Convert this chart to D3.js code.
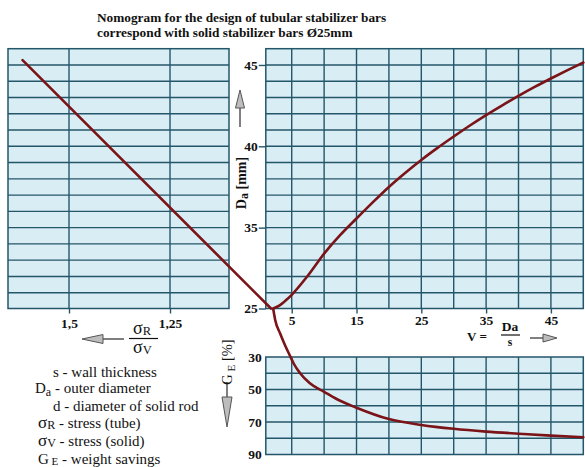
<!DOCTYPE html>
<html>
<head>
<meta charset="utf-8">
<script src="https://cdn.jsdelivr.net/npm/d3@7/dist/d3.min.js"></script>
<style>
body { margin: 0; background: #fff; }
svg text { font-family: "Liberation Serif", "Times New Roman", serif; fill: #111; }
.tick text { font-weight: bold; font-size: 13.5px; }
</style>
</head>
<body>
<div id="chart"></div>
<script>
// values
const vTicks = [5, 15, 25, 35, 45];
const vGrid = [5, 10, 15, 20, 25, 30, 35, 40, 45];
const daTicks = [25, 35, 40, 45];
const daGrid = d3.range(31, 46);
const geTicks = [30, 50, 70, 90];
const geGrid = [40, 50, 60, 70, 80];
const ratioTicks = [1.5, 1.25];

// sigma_R/sigma_V -> Da (straight line across the left panel)
const ratioDa = [[1.615, 45.3], [1.0, 25]];
// V = Da/s -> Da
const vDa = [[2.15, 25], [3.2, 26.3], [4.05, 28.0], [5, 30.2], [7.4, 32], [10, 33.4],
  [12.5, 34.55], [15, 35.56], [17.5, 36.55], [20, 37.5], [22.5, 38.36], [25, 39.16],
  [27.5, 39.9], [30, 40.6], [32.5, 41.28], [35, 41.92], [37.5, 42.52], [40, 43.1],
  [42.5, 43.65], [45, 44.17], [47.5, 44.67], [50, 45.15]];
// V = Da/s -> weight savings G_E [%]
const vGe = [[2.15, 0.5], [2.45, 7.2], [3.2, 15.4], [3.95, 22.6], [4.75, 29.4], [5.3, 34],
  [6.3, 40], [7.8, 46.2], [10, 51.4], [12, 56], [15, 61.2], [20, 68.2], [25, 71.8],
  [30, 74.2], [35, 75.9], [40, 77.2], [45, 78.4], [50, 79.4]];

const W = 585, H = 467;
const gridCol = "#24566a", fillCol = "#d9edf4", curveCol = "#7a1418";

const svg = d3.select("#chart").append("svg")
  .attr("width", W).attr("height", H);

const xV = d3.scaleLinear().domain([1, 50]).range([265.8, 583.3]);
const yDa = d3.scaleLinear().domain([25, 31, 46]).range([308.5, 292.7, 48.7]);
const yGe = d3.scaleLinear().domain([30, 90]).range([357, 454.5]);
const xR = d3.scaleLinear().domain([1.651, 1.104]).range([8, 229]);

// title
const title = svg.append("text").attr("x", 97).attr("y", 22)
  .style("font-weight", "bold").style("font-size", "13.3px");
title.append("tspan").attr("x", 97).text("Nomogram for the design of tubular stabilizer bars");
title.append("tspan").attr("x", 97).attr("dy", 14.5).text("correspond with solid stabilizer bars  Ø25mm");

function panel(xs, ys, vLines, hLines) {
  const g = svg.append("g");
  const [x0, x1] = xs.range(), yr = ys.range();
  const xa = Math.min(x0, x1), xb = Math.max(x0, x1);
  const ya = d3.min(yr), yb = d3.max(yr);
  g.append("rect").attr("x", xa).attr("y", ya).attr("width", xb - xa).attr("height", yb - ya)
    .attr("fill", fillCol).attr("stroke", gridCol).attr("stroke-width", 1.5);
  g.selectAll("line.v").data(vLines).join("line").attr("class", "v")
    .attr("x1", d => xs(d)).attr("x2", d => xs(d)).attr("y1", ya).attr("y2", yb)
    .attr("stroke", gridCol).attr("stroke-width", 1.4);
  g.selectAll("line.h").data(hLines).join("line").attr("class", "h")
    .attr("y1", d => ys(d)).attr("y2", d => ys(d)).attr("x1", xa).attr("x2", xb)
    .attr("stroke", gridCol).attr("stroke-width", 1.4);
  return g;
}

panel(xR, yDa, ratioTicks, daGrid);
panel(xV, yDa, vGrid, daGrid);
panel(xV, yGe, vGrid, geGrid);

// axes
const axDa = svg.append("g").attr("transform", `translate(${xV(1)},0)`)
  .call(d3.axisLeft(yDa).tickValues(daTicks).tickSize(7).tickPadding(1));
const axV = svg.append("g").attr("transform", `translate(0,${yDa(25)})`)
  .call(d3.axisBottom(xV).tickValues(vTicks).tickSize(5).tickPadding(2));
const axR = svg.append("g").attr("transform", `translate(0,${yDa(25)})`)
  .call(d3.axisBottom(xR).tickValues(ratioTicks).tickSize(5).tickPadding(5)
    .tickFormat(d => String(d).replace(".", ",")));
const axGe = svg.append("g").attr("transform", `translate(${xV(1)},0)`)
  .call(d3.axisLeft(yGe).tickValues(geTicks).tickSize(0).tickPadding(4));
[axDa, axV, axR, axGe].forEach(a => {
  a.select(".domain").remove();
  a.selectAll(".tick line").attr("stroke", gridCol).attr("stroke-width", 1.4);
});

// curves
const lineVDa = d3.line().x(d => xV(d[0])).y(d => yDa(d[1])).curve(d3.curveMonotoneX);
const lineVGe = d3.line().x(d => xV(d[0])).y(d => yGe(d[1])).curve(d3.curveMonotoneX);
const lineR = d3.line().x(d => xR(d[0])).y(d => yDa(d[1]));
[[ratioDa, lineR], [vDa, lineVDa], [vGe, lineVGe]].forEach(([data, gen]) => {
  svg.append("path").datum(data).attr("d", gen)
    .attr("fill", "none").attr("stroke", curveCol).attr("stroke-width", 2.6)
    .attr("stroke-linejoin", "round").attr("stroke-linecap", "round");
});

// arrows
function arrow(x1, y1, x2, y2, head, half) {
  const g = svg.append("g");
  const dx = x2 - x1, dy = y2 - y1, len = Math.hypot(dx, dy);
  const ux = dx / len, uy = dy / len;
  const bx = x2 - ux * head, by = y2 - uy * head;
  g.append("line").attr("x1", x1).attr("y1", y1).attr("x2", bx).attr("y2", by)
    .attr("stroke", "#555").attr("stroke-width", 1.5);
  g.append("path")
    .attr("d", `M${x2},${y2}L${bx - uy * half},${by + ux * half}L${bx + uy * half},${by - ux * half}Z`)
    .attr("fill", "#bdbdbd").attr("stroke", "#555").attr("stroke-width", 1);
}
arrow(240, 127, 240, 90, 18, 4.5);
arrow(227, 382, 227, 427, 30, 5);
arrow(530, 338, 557, 338, 14, 4);
arrow(124, 339, 82, 339, 21, 4.5);

// Da [mm]
const daLab = svg.append("text").attr("transform", "translate(246,183) rotate(-90)")
  .attr("text-anchor", "middle").style("font-weight", "bold").style("font-size", "14px");
daLab.append("tspan").text("D");
daLab.append("tspan").attr("dy", 2).style("font-size", "12px").text("a");
daLab.append("tspan").attr("dy", -2).text(" [mm]");

// G_E [%]
const geLab = svg.append("text").attr("transform", "translate(232,362) rotate(-90)")
  .attr("text-anchor", "middle").style("font-size", "14.5px");
geLab.append("tspan").text("G");
geLab.append("tspan").attr("dy", 3).style("font-size", "11px").text(" E");
geLab.append("tspan").attr("dy", -3).text(" [%]");

// V = Da / s
svg.append("text").attr("x", 467).attr("y", 341).style("font-weight", "bold")
  .style("font-size", "13px").text("V =");
svg.append("text").attr("x", 510).attr("y", 331).attr("text-anchor", "middle")
  .style("font-weight", "bold").style("font-size", "13.5px").text("Da");
svg.append("line").attr("x1", 501).attr("x2", 520).attr("y1", 335).attr("y2", 335)
  .attr("stroke", "#111").attr("stroke-width", 1.2);
svg.append("text").attr("x", 510).attr("y", 346).attr("text-anchor", "middle")
  .style("font-weight", "bold").style("font-size", "11.5px").text("s");

// sigma_R / sigma_V
function sigma(x, y, sub, size, subSize) {
  const t = svg.append("text").attr("x", x).attr("y", y);
  t.append("tspan").style("font-size", size + "px").text("σ");
  t.append("tspan").attr("dy", 1).style("font-size", subSize + "px").text(sub);
  return t;
}
sigma(133, 334, "R", 18, 12.5);
svg.append("line").attr("x1", 129).attr("x2", 158).attr("y1", 338.5).attr("y2", 338.5)
  .attr("stroke", "#111").attr("stroke-width", 1.2);
sigma(133, 353, "V", 18, 12.5);

// legend
const leg = [
  {x: 53, y: 377, parts: [["s - wall thickness", 15, 0]]},
  {x: 35, y: 393, parts: [["D", 15, 0], ["a", 12, 3], [" - outer diameter", 15, -3]]},
  {x: 53, y: 411, parts: [["d - diameter of solid rod", 15, 0]]},
  {x: 38, y: 428, parts: [["σ", 17, 0], ["R", 12, 1], [" - stress (tube)", 15, -1]]},
  {x: 38, y: 446, parts: [["σ", 17, 0], ["V", 12, 1], [" - stress (solid)", 15, -1]]},
  {x: 38, y: 464, parts: [["G", 15, 0], [" E", 11, 1], [" - weight savings", 15, -1]]}
];
leg.forEach(l => {
  const t = svg.append("text").attr("x", l.x).attr("y", l.y);
  l.parts.forEach(p => t.append("tspan").attr("dy", p[2]).style("font-size", p[1] + "px").text(p[0]));
});
</script>
</body>
</html>
